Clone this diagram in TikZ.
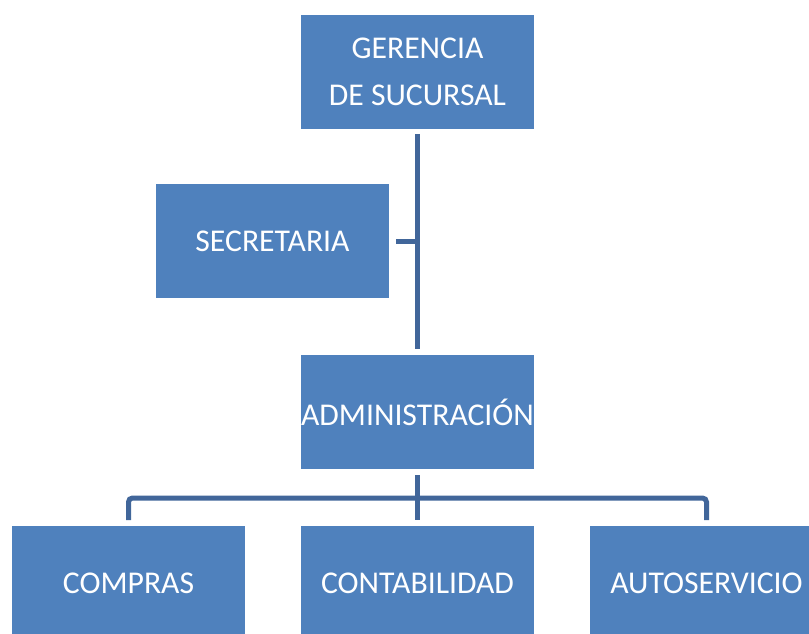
\documentclass[tikz,border=0pt]{standalone}
\usepackage{fontspec}
\setmainfont{Carlito}
\usepackage{xcolor}
\usepackage{tikz}
\usetikzlibrary{positioning,calc}

\definecolor{boxblue}{HTML}{4F81BD}
\definecolor{lineblue}{HTML}{41669A}

\begin{document}
\begin{tikzpicture}[x=1pt,y=1pt,
        unit/.style={rectangle, fill=boxblue, text=white, inner sep=0pt, outer sep=0pt,
            minimum width=233pt, minimum height=114pt, align=center,
            font=\fontsize{31.7}{47}\selectfont},
        conn/.style={draw=lineblue, line width=5pt}]
        \useasboundingbox (0,0) rectangle (809,633);
        \clip (0,0) rectangle (809,633);
        \node[unit] (ger) at (417.5,561) {GERENCIA\\DE SUCURSAL};
        \node[unit] (sec) at (272.5,391.5) {SECRETARIA};
        \node[unit, below=226pt of ger] (adm) {ADMINISTRACIÓN};
        \node[unit, below=57pt of adm] (cont) {CONTABILIDAD};
        \node[unit, left=56pt of cont] (comp) {COMPRAS};
        \node[unit, right=56pt of cont] (auto) {AUTOSERVICIO};
        \coordinate[below=29pt of adm.south] (bus);
        \draw[conn, shorten <=5pt, shorten >=6pt] (ger) -- (adm);
        \draw[conn, shorten <=7pt] (sec.east) -- (sec.east -| ger.south);
        \draw[conn, shorten <=6pt] (adm) -- (bus);
        \foreach \n in {comp,cont,auto} {
            \draw[conn, rounded corners=4pt, shorten >=6pt] (bus) -| (\n.north);
        }
    \end{tikzpicture}
\end{document}
